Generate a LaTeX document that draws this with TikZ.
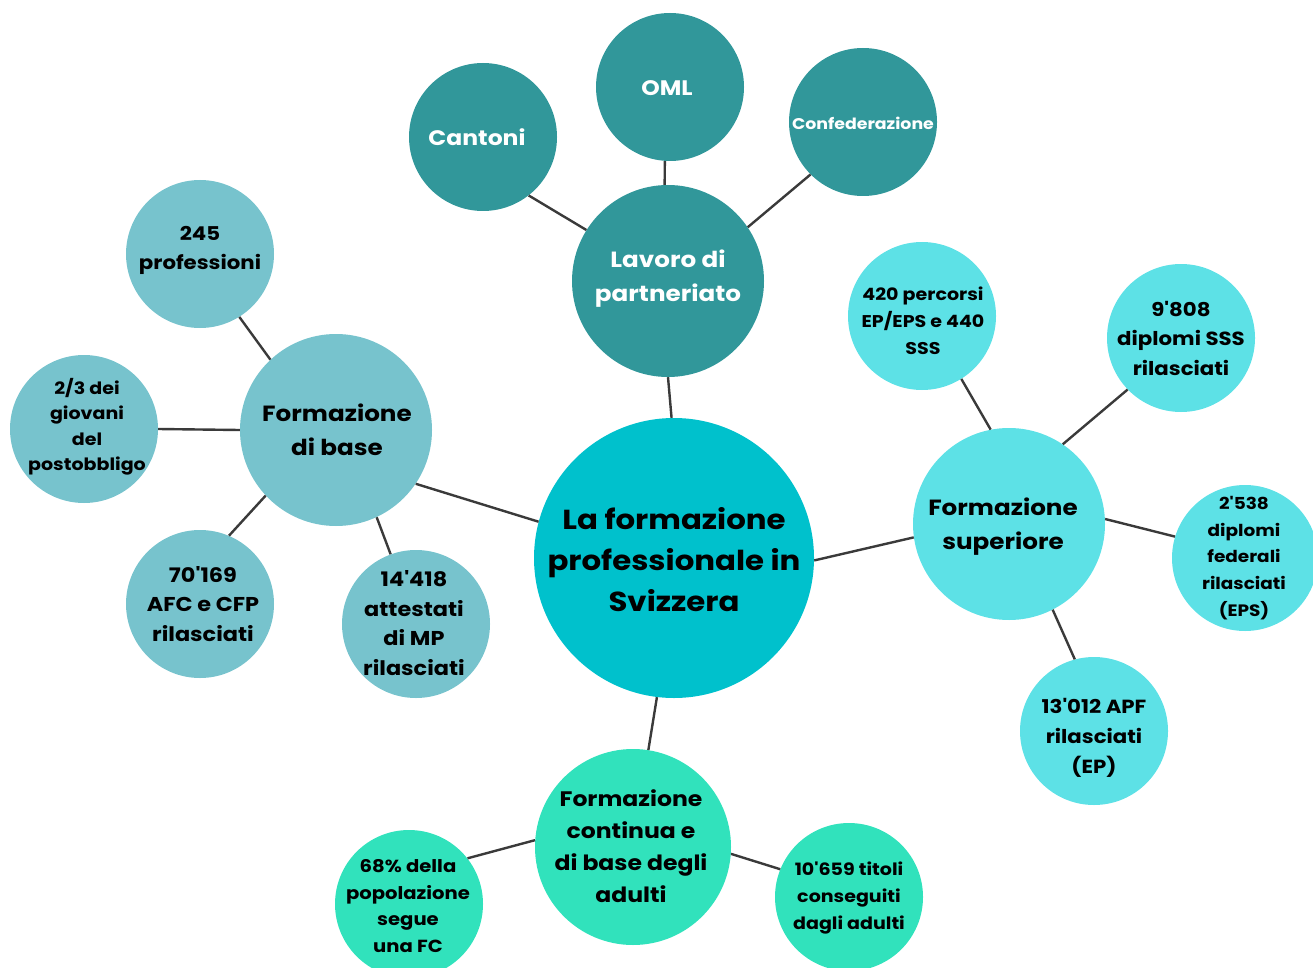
\documentclass[tikz,border=0pt]{standalone}
\usepackage{fontspec}
\setmainfont{Poppins}[Ligatures=TeXOff, FakeStretch=1.12]
\definecolor{dteal}{HTML}{31979A}
\definecolor{cmain}{HTML}{00C1CC}
\definecolor{cbase}{HTML}{77C3CD}
\definecolor{csup}{HTML}{5DE1E6}
\definecolor{ccont}{HTML}{31E2BC}
\definecolor{lin}{HTML}{3A3A3A}
\tikzset{
  bub/.style={circle, fill=#1, draw=none, inner sep=0pt},
  conn/.style={draw=lin, line width=2.4pt},
  txt/.style={align=center, font=\bfseries, text=black, inner sep=0pt},
  wtxt/.style={align=center, font=\bfseries, text=white, inner sep=0pt},
}
\newcommand{\fs}[2]{\fontsize{#1}{#2}\selectfont}
\begin{document}
\begin{tikzpicture}[x=1pt,y=-1pt]
\path[use as bounding box] (0,0) rectangle (1313,968);
% circles
\node[bub=cmain, minimum size=280pt] (main) at (674,558) {};
\node[bub=dteal, minimum size=192pt] (lav) at (668,281) {};
\node[bub=dteal, minimum size=148pt] (cant) at (483,137) {};
\node[bub=dteal, minimum size=148pt] (oml) at (670,87) {};
\node[bub=dteal, minimum size=148pt] (conf) at (863,122) {};
\node[bub=cbase, minimum size=192pt] (base) at (336,430) {};
\node[bub=cbase, minimum size=148pt] (prof) at (200,254) {};
\node[bub=cbase, minimum size=148pt] (giov) at (84,429) {};
\node[bub=cbase, minimum size=148pt] (afc) at (200,604) {};
\node[bub=cbase, minimum size=148pt] (mp) at (416,624) {};
\node[bub=csup, minimum size=192pt] (sup) at (1009,524) {};
\node[bub=csup, minimum size=148pt] (perc) at (922,316) {};
\node[bub=csup, minimum size=148pt] (sss) at (1181,338) {};
\node[bub=csup, minimum size=146pt] (eps) at (1245,558) {};
\node[bub=csup, minimum size=148pt] (apf) at (1094,731) {};
\node[bub=ccont, minimum size=196pt] (cont) at (633,847) {};
\node[bub=ccont, minimum size=148pt] (pop) at (409,904) {};
\node[bub=ccont, minimum size=148pt] (tit) at (849,897) {};
% connectors
\draw[conn] (lav.-90) -- (main.91);
\draw[conn] (main.-1) -- (sup.188);
\draw[conn] (main.-97.7) -- (cont.81.3);
\draw[conn] (base.-34.4) -- (main.165);
\draw[conn] (cant.-52.7) -- (lav.148.3);
\draw[conn] (oml.-94) -- (lav.92);
\draw[conn] (lav.34.5) -- (conf.-135);
\draw[conn] (prof.-58) -- (base.133.3);
\draw[conn] (giov.0) -- (base.180);
\draw[conn] (afc.67.5) -- (base.-137.5);
\draw[conn] (base.-65) -- (mp.110);
\draw[conn] (perc.-58.5) -- (sup.101.4);
\draw[conn] (sup.56) -- (sss.-136.6);
\draw[conn] (sup.3.5) -- (eps.163);
\draw[conn] (sup.-63.7) -- (apf.105);
\draw[conn] (pop.38) -- (cont.176);
\draw[conn] (cont.-4) -- (tit.158.6);
% texts
\node[txt, font=\bfseries\fs{27.5}{41}] (main-t) at (674,560) {La formazione\\professionale in\\Svizzera};
\node[wtxt, font=\bfseries\fs{22}{34}] (lav-t) at (668,279) {Lavoro di\\partneriato};
\node[wtxt, font=\bfseries\fs{21}{30}] (cant-t) at (477,137) {Cantoni};
\node[wtxt, font=\bfseries\fs{21}{28}] (oml-t) at (667,88) {OML};
\node[wtxt, font=\bfseries\fs{15.5}{22}] (conf-t) at (863,123) {Confederazione};
\node[txt, font=\bfseries\fs{22}{34}] (base-t) at (337,430) {Formazione\\di base};
\node[txt, font=\bfseries\fs{19}{29}] (prof-t) at (200,250) {245\\professioni};
\node[txt, font=\bfseries\fs{17}{25.5}] (giov-t) at (87,427) {2/3 dei\\giovani\\del\\postobbligo};
\node[txt, font=\bfseries\fs{20}{29.5}] (afc-t) at (203,604) {70'169\\AFC e CFP\\rilasciati};
\node[txt, font=\bfseries\fs{20}{29.5}] (mp-t) at (414,623) {14'418\\attestati\\di MP\\rilasciati};
\node[txt, font=\bfseries\fs{22}{34}] (sup-t) at (1003,527) {Formazione\\superiore};
\node[txt, font=\bfseries\fs{17}{27}] (perc-t) at (923,321) {420 percorsi\\EP/EPS e 440\\SSS};
\node[txt, font=\bfseries\fs{19}{29.5}] (sss-t) at (1181,338) {9'808\\diplomi SSS\\rilasciati};
\node[txt, font=\bfseries\fs{16.5}{26.7}] (eps-t) at (1244,558) {2'538\\diplomi\\federali\\rilasciati\\(EPS)};
\node[txt, font=\bfseries\fs{19}{30}] (apf-t) at (1094,738) {13'012 APF\\rilasciati\\(EP)};
\node[txt, font=\bfseries\fs{21}{32}] (cont-t) at (631,846) {Formazione\\continua e\\di base degli\\adulti};
\node[txt, font=\bfseries\fs{17.5}{26.7}] (pop-t) at (408,906) {68\% della\\popolazione\\segue\\una FC};
\node[txt, font=\bfseries\fs{17}{27}] (tit-t) at (849,898) {10'659 titoli\\conseguiti\\dagli adulti};
\end{tikzpicture}
\end{document}
